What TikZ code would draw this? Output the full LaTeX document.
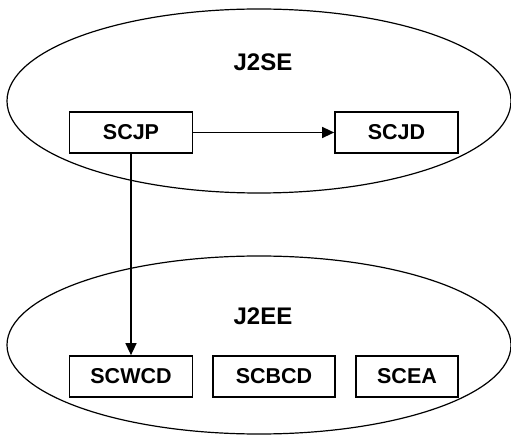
\documentclass[tikz,border=0pt]{standalone}
\usepackage{fontspec}
\setmainfont{Liberation Sans}
\usetikzlibrary{arrows.meta}
\begin{document}
\begin{tikzpicture}[x=1pt,y=-1pt,
  region/.style={draw=black,line width=1.2pt},
  cert/.style={draw=black,line width=1.7pt,minimum width=123pt,minimum height=41pt,inner sep=0pt,font=\fontsize{21.5}{25}\selectfont\bfseries},
  title/.style={font=\fontsize{24}{28}\selectfont\bfseries},
  conn/.style={line width=1.4pt,-{Triangle[length=12pt,width=11pt]}}]
\useasboundingbox (0,0) rectangle (511,435);
\draw[region] (259,101) ellipse [x radius=252, y radius=92];
\draw[region] (259,345) ellipse [x radius=252, y radius=89];
\node[title] (j2se) at (263,62) {J2SE};
\node[title] (j2ee) at (263,316) {J2EE};
\node[cert] (scjp) at (131,132.5) {SCJP};
\node[cert] (scjd) at (396.5,132.5) {SCJD};
\node[cert] (scwcd) at (131,376.5) {SCWCD};
\node[cert, minimum width=122pt] (scbcd) at (274,376.5) {SCBCD};
\node[cert, minimum width=102pt] (scea) at (407,376.5) {SCEA};
\draw[conn] (scjp) -- (scjd);
\draw[conn] (scjp) -- (scwcd);
\end{tikzpicture}
\end{document}
